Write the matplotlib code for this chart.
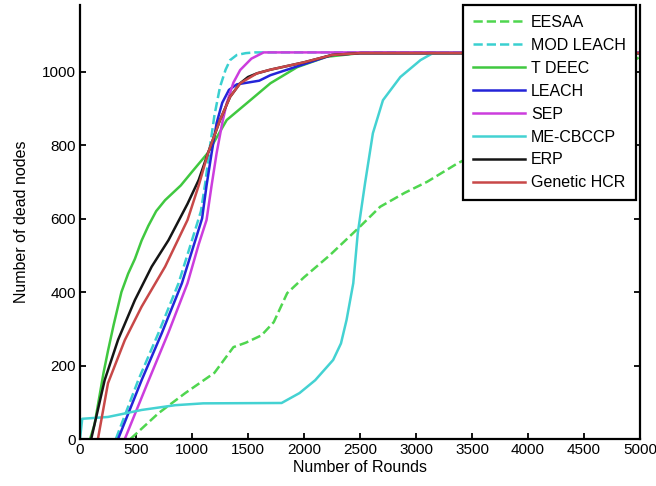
import matplotlib
matplotlib.use("Agg")
import matplotlib.pyplot as plt

plt.rcParams["font.family"] = ["Liberation Sans", "DejaVu Sans"]

# rounds / dead nodes
eesaa_x = [450, 700, 940, 1200, 1370, 1480, 1620, 1730, 1850, 2000, 2230, 2500, 2680, 2900, 3100, 3370, 3700, 4000, 4500, 5000]
eesaa_y = [0, 70, 125, 180, 250, 262, 282, 318, 397, 440, 500, 578, 632, 670, 700, 750, 800, 860, 950, 1040]

modleach_x = [320, 520, 700, 880, 1000, 1080, 1120, 1160, 1200, 1250, 1300, 1340, 1400, 1480, 1560, 5000]
modleach_y = [0, 160, 288, 424, 541, 620, 700, 795, 880, 958, 1005, 1031, 1045, 1050, 1052, 1052]

tdeec_x = [90, 130, 170, 210, 250, 300, 370, 430, 490, 550, 610, 680, 760, 900, 1000, 1140, 1310, 1490, 1700, 1940, 2200, 2500, 5000]
tdeec_y = [0, 40, 110, 180, 240, 310, 400, 450, 490, 540, 580, 620, 650, 690, 727, 778, 868, 914, 968, 1012, 1040, 1050, 1050]

leach_x = [340, 550, 730, 910, 1030, 1090, 1130, 1175, 1220, 1270, 1330, 1400, 1500, 1600, 1700, 1800, 2000, 2250, 2500, 5000]
leach_y = [0, 160, 288, 424, 541, 600, 690, 778, 860, 915, 950, 965, 970, 975, 990, 1000, 1020, 1045, 1050, 1050]

sep_x = [400, 600, 790, 960, 1060, 1130, 1175, 1220, 1270, 1310, 1370, 1430, 1530, 1640, 5000]
sep_y = [0, 150, 290, 424, 530, 596, 690, 778, 860, 914, 970, 1004, 1035, 1052, 1052]

mecbccp_x = [0, 20, 250, 550, 850, 1100, 1800, 1960, 2100, 2260, 2330, 2380, 2440, 2480, 2545, 2615, 2705, 2860, 3040, 3150, 5000]
mecbccp_y = [0, 55, 60, 79, 92, 97, 98, 125, 160, 215, 260, 324, 424, 560, 696, 832, 922, 985, 1031, 1050, 1050]

erp_x = [100, 160, 220, 340, 490, 640, 790, 960, 1060, 1143, 1250, 1340, 1430, 1500, 1580, 1700, 1850, 2000, 2250, 2500, 5000]
erp_y = [0, 80, 160, 270, 378, 469, 541, 640, 705, 778, 868, 931, 968, 985, 995, 1005, 1015, 1025, 1045, 1050, 1050]

ghcr_x = [160, 250, 400, 550, 760, 960, 1060, 1143, 1250, 1340, 1430, 1580, 1700, 1850, 2000, 2250, 2500, 5000]
ghcr_y = [0, 152, 269, 360, 469, 596, 690, 778, 868, 931, 968, 995, 1005, 1015, 1025, 1045, 1050, 1050]

fig = plt.figure(figsize=(6.56, 4.86), dpi=100)
ax = fig.add_axes([80 / 656, 47 / 486, 560 / 656, 434 / 486])

lw = 1.8
ax.plot(eesaa_x, eesaa_y, "--", color="#4fd64f", lw=lw, label="EESAA")
ax.plot(modleach_x, modleach_y, "--", color="#3ad0d0", lw=lw, label="MOD LEACH")
ax.plot(tdeec_x, tdeec_y, "-", color="#40c840", lw=lw, label="T DEEC")
ax.plot(leach_x, leach_y, "-", color="#2424d8", lw=lw, label="LEACH")
ax.plot(sep_x, sep_y, "-", color="#cc3ddd", lw=lw, label="SEP")
ax.plot(mecbccp_x, mecbccp_y, "-", color="#44d2d2", lw=lw, label="ME-CBCCP")
ax.plot(erp_x, erp_y, "-", color="#151515", lw=lw, label="ERP")
ax.plot(ghcr_x, ghcr_y, "-", color="#c84848", lw=lw, label="Genetic HCR")

ax.set_xlim(0, 5000)
ax.set_ylim(0, 1181)
ax.set_xticks(range(0, 5001, 500))
ax.set_yticks(range(0, 1001, 200))
ax.spines["top"].set_visible(False)
for s in ["left", "right", "bottom"]:
    ax.spines[s].set_linewidth(1.6)
ax.tick_params(direction="in", right=True, labelsize=11, length=4, width=1.3, pad=3)
ax.set_xlabel("Number of Rounds", fontsize=11.5, labelpad=2)
ax.set_ylabel("Number of dead nodes", fontsize=11.5, labelpad=9)

leg = ax.legend(loc="upper right", bbox_to_anchor=(0.992, 1.0), borderaxespad=0,
                fontsize=11.5, handlelength=3.3, handletextpad=0.35,
                labelspacing=0.5, fancybox=False, framealpha=1, borderpad=0.6)
leg.get_frame().set_edgecolor("black")
leg.get_frame().set_linewidth(1.6)

fig.savefig("out.png", dpi=100)
